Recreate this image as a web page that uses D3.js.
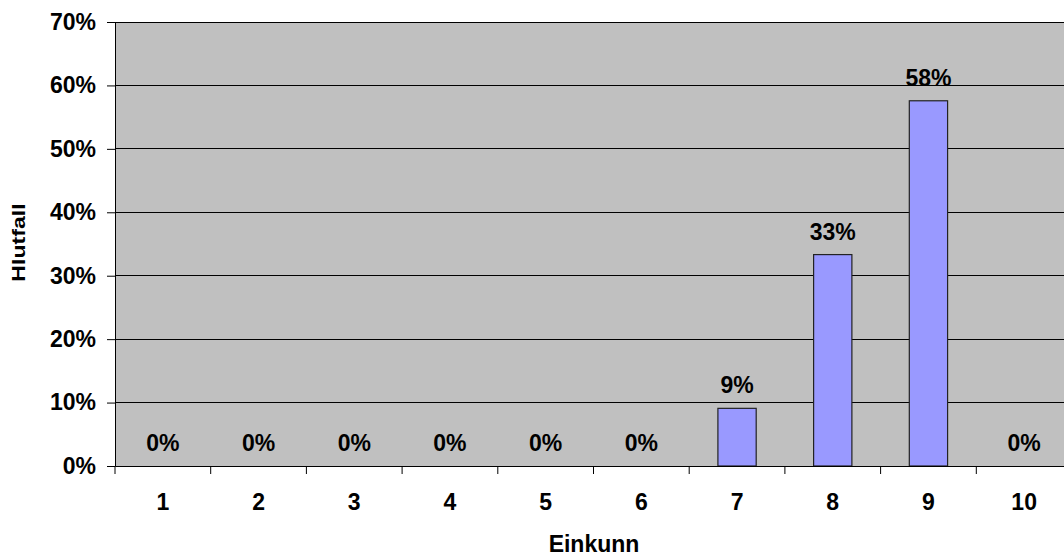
<!DOCTYPE html>
<html>
<head>
<meta charset="UTF-8">
<script src="https://d3js.org/d3.v7.min.js"></script>
<style>
    body { margin: 0; background: #fff; }
    svg text { font-family: "Liberation Sans", Arial, sans-serif; font-weight: bold; fill: #000; }
</style>
</head>
<body>
<div id="chart"></div>
<script>
    // Einkunn (grades) and share of answers
    const categories = ["1", "2", "3", "4", "5", "6", "7", "8", "9", "10"];
    const values = [0, 0, 0, 0, 0, 0, 0.0909, 0.3333, 0.5758, 0];
    const yTicks = [0, 0.1, 0.2, 0.3, 0.4, 0.5, 0.6, 0.7];

    const W = 1064, H = 556;
    const margin = { top: 22, right: -8, bottom: 90, left: 115 };
    const width = W - margin.left - margin.right;
    const height = H - margin.top - margin.bottom;
    const fs = "23px";

    const svg = d3.select("#chart").append("svg")
        .attr("width", W).attr("height", H);
    const g = svg.append("g").attr("transform", `translate(${margin.left},${margin.top})`);

    const x = d3.scaleBand().domain(categories).range([0, width]).padding(0);
    const y = d3.scaleLinear().domain([0, 0.7]).range([height, 0]);

    // plot background
    g.append("rect").attr("width", width).attr("height", height).attr("fill", "#c0c0c0");

    // gridlines
    g.selectAll(".grid").data(yTicks.slice(1)).enter().append("line")
        .attr("x1", 0).attr("x2", width)
        .attr("y1", d => y(d)).attr("y2", d => y(d))
        .attr("stroke", "#000").attr("stroke-width", 1).attr("shape-rendering", "crispEdges");

    const rows = categories.map((c, i) => ({ c, v: values[i] }));

    // bars
    const bw = x.bandwidth() * 0.4;
    g.selectAll(".bar").data(rows.filter(d => d.v > 0))
        .enter().append("rect")
        .attr("x", d => x(d.c) + (x.bandwidth() - bw) / 2)
        .attr("y", d => y(d.v))
        .attr("width", bw)
        .attr("height", d => height - y(d.v))
        .attr("fill", "#9999ff").attr("stroke", "#222").attr("stroke-width", 1.2);

    // value labels
    g.selectAll(".lbl").data(rows)
        .enter().append("text")
        .attr("x", d => x(d.c) + x.bandwidth() / 2)
        .attr("y", d => y(d.v) - 15)
        .attr("text-anchor", "middle")
        .style("font-size", fs)
        .text(d => Math.round(d.v * 100) + "%");

    // y axis
    const ya = g.append("g")
        .call(d3.axisLeft(y).tickValues(yTicks).tickSize(8).tickPadding(11)
            .tickFormat(d => Math.round(d * 100) + "%"));
    ya.selectAll("text").style("font-size", fs);
    ya.selectAll("line, path").attr("stroke", "#000");

    // x axis
    const xa = g.append("g").attr("transform", `translate(0,${height})`)
        .call(d3.axisBottom(x).tickSize(0).tickPadding(28));
    xa.selectAll("text").style("font-size", fs);
    xa.select("path").attr("stroke", "#000");
    xa.selectAll(".sep").data(categories).enter().append("line")
        .attr("x1", d => x(d)).attr("x2", d => x(d))
        .attr("y1", 0).attr("y2", 8).attr("stroke", "#000");

    // axis titles
    svg.append("text")
        .attr("transform", "translate(25,242.5) rotate(-90) scale(1.05,0.82)")
        .attr("text-anchor", "middle")
        .style("font-size", "22px")
        .text("Hlutfall");
    svg.append("text")
        .attr("x", 594)
        .attr("y", 552)
        .attr("text-anchor", "middle")
        .style("font-size", fs)
        .text("Einkunn");
</script>
</body>
</html>
